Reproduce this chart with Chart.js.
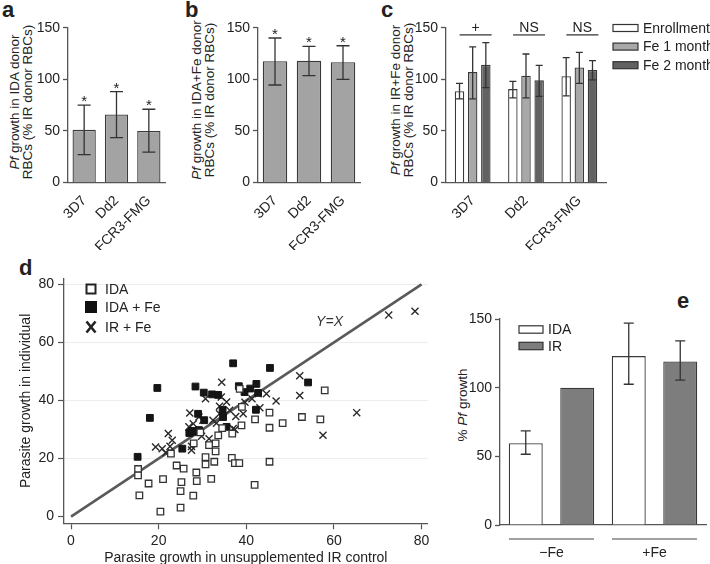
<!DOCTYPE html>
<html>
<head>
<meta charset="utf-8">
<script src="https://cdn.jsdelivr.net/npm/chart.js@4.4.1/dist/chart.umd.min.js"></script>
<style>
  body { margin:0; width:710px; height:564px; position:relative; overflow:hidden; background:#fff;
         font-family:"Liberation Sans", Arial, sans-serif; color:#222; }
  canvas { position:absolute; }
  .tag { position:absolute; font-weight:bold; font-size:22px; line-height:22px; }
  .ytitle { position:absolute; font-size:13.5px; line-height:13px; text-align:center; white-space:nowrap; transform:rotate(-90deg); }
</style>
</head>
<body>
<div class="tag" style="left:2px;top:-1px">a</div>
<div class="tag" style="left:185px;top:-1px">b</div>
<div class="tag" style="left:381px;top:-1px">c</div>
<div class="tag" style="left:19px;top:257px">d</div>
<div class="tag" style="left:677px;top:290px">e</div>

<div class="ytitle" style="left:-89px;top:89px;width:220px;height:26px"><i>Pf</i> growth in IDA donor<br>RBCs (% IR donor RBCs)</div>
<div class="ytitle" style="left:93px;top:87px;width:220px;height:26px"><i>Pf</i> growth in IDA+Fe donor<br>RBCs (% IR donor RBCs)</div>
<div class="ytitle" style="left:292px;top:87px;width:220px;height:26px"><i>Pf</i> growth in IR+Fe donor<br>RBCs (% IR donor RBCs)</div>
<div class="ytitle" style="left:413px;top:398px;width:100px;height:14px">% <i>Pf</i> growth</div>

<canvas id="ca" width="140" height="250" style="left:36px;top:0"></canvas>
<canvas id="cb" width="150" height="250" style="left:226px;top:0"></canvas>
<canvas id="cc" width="296" height="250" style="left:414px;top:0"></canvas>
<canvas id="cd" width="440" height="302" style="left:0;top:262px"></canvas>
<canvas id="ce" width="250" height="284" style="left:460px;top:280px"></canvas>

<script>
// panel a / b : growth in IDA and IDA+Fe donor RBCs
const strains = ["3D7", "Dd2", "FCR3-FMG"];
const idaMean = [51, 66, 50];
const idaLo = [27, 43.5, 29.5];
const idaHi = [75, 88, 71];
const idaFeMean = [117.5, 118, 116.5];
const idaFeLo = [94.5, 103.5, 100];
const idaFeHi = [140, 132, 132.5];

// panel c : IR+Fe donors over time
const cSeries = ["Enrollment", "Fe 1 month", "Fe 2 month"];
const enrMean = [88.5, 90.5, 103];
const enrLo = [81, 82, 84];
const enrHi = [96, 98, 121];
const fe1Mean = [107, 103.5, 111.5];
const fe1Lo = [81, 82, 96];
const fe1Hi = [131.5, 124.5, 126];
const fe2Mean = [114, 99, 109];
const fe2Lo = [92, 83.5, 99.5];
const fe2Hi = [135.5, 113.5, 118];
const cSig = ["+", "NS", "NS"];
const sigLineAt = 143;

// panel d : individual vs IR control growth
const dTicks = [0, 20, 40, 60, 80];
const yxLine = [[0, 0], [80, 80]];
const yxLabelAt = [59, 67];
const idaPts = [[57.9,43.5],[38.5,44],[45.3,35.8],[42,33.5],[48.3,32.2],[52.7,34.3],[56.9,33.5],[45.3,30.6],
  [38.9,31.4],[36.8,28.6],[39,37.8],[36.7,20.2],[37.4,18.4],[38.4,18.4],[45.3,18.9],[41.9,10.9],[33.6,28],
  [33,25.2],[33,22.5],[31.5,24.6],[30.7,20.5],[30.7,18],[32.7,18.9],[32,13],[28.6,15.2],[28.7,12.2],[27.9,7.2],
  [28,25.2],[25.7,16.5],[24.1,17.6],[25.2,11.9],[25,8.8],[25,3.1],[21,12.9],[20.4,1.7],[17.7,11.4],[15.6,7.3],
  [15.3,16.4],[15.3,14.2],[22.8,21.7],[29.5,29],[34.5,30.5]];
const idaFePts = [[37,52.8],[45.4,51.2],[19.7,44.3],[28.4,44.8],[30.3,42.7],[32.2,42.1],[33.6,41.9],[38.3,44.9],
  [39.6,42.9],[40.9,44.1],[42.3,45.7],[42.7,42.6],[54.1,46.2],[18,34],[15.2,20.6],[42.2,36.8],[29,35.4],
  [30.4,33.2],[34.6,36.8],[34.7,34.3],[35.5,30.9],[27.5,29.5],[28.3,29.2],[29.2,29.8],[25.4,23.4],[27,28.8]];
const irFePts = [[72.5,69.4],[78.5,70.7],[52.2,48.5],[52.2,41.7],[65.2,35.8],[57.5,28],[46.8,39.8],[44.6,42.3],
  [43.1,37.5],[42.7,42.3],[41.3,40.6],[39.3,35.4],[39.7,39.4],[37.4,30],[37.6,34.5],[34.4,46.3],[34.3,41.2],
  [35.5,39.5],[33.9,38],[36.2,36.6],[33.9,35.4],[32.4,33.2],[30.7,40.6],[27.1,35.7],[29.2,34.3],[30.1,33.2],
  [27.9,32],[29.8,27.7],[31.5,26.8],[27.5,24.2],[27.5,22.9],[26.9,30.9],[22.2,28.6],[23.1,26.3],[19.3,24],
  [20.8,23.4],[21.6,22],[22.6,24.2],[33.2,32.2],[37,30.3]];

// panel e : summary
const eGroups = ["\u2212Fe", "+Fe"];
const eIDA = [59.5, 123];
const eIDALo = [51.5, 102.5];
const eIDAHi = [68.5, 147];
const eIR = [100, 119];
const eIRLo = [null, 105.5];
const eIRHi = [null, 134];

Chart.defaults.font.family = '"Liberation Sans", Arial, sans-serif';
Chart.defaults.font.size = 14;
Chart.defaults.color = '#222';
const AX = '#555';
const FONT = '14px "Liberation Sans", Arial, sans-serif';

// error bars (+ optional asterisk) on top of bars
const errorBars = {
  id: 'errorBars',
  afterDatasetsDraw(chart, args, opts) {
    const ctx = chart.ctx, y = chart.scales.y;
    chart.data.datasets.forEach((ds, di) => {
      if (!ds.errLo) return;
      chart.getDatasetMeta(di).data.forEach((bar, i) => {
        if (ds.errLo[i] == null) return;
        const yl = y.getPixelForValue(ds.errLo[i]), yh = y.getPixelForValue(ds.errHi[i]);
        const c = opts.cap;
        ctx.save();
        ctx.strokeStyle = '#333'; ctx.lineWidth = 1.3;
        ctx.beginPath();
        ctx.moveTo(bar.x, yl); ctx.lineTo(bar.x, yh);
        ctx.moveTo(bar.x - c, yl); ctx.lineTo(bar.x + c, yl);
        ctx.moveTo(bar.x - c, yh); ctx.lineTo(bar.x + c, yh);
        ctx.stroke();
        if (opts.star) {
          ctx.fillStyle = '#222'; ctx.font = '15px "Liberation Sans", Arial';
          ctx.textAlign = 'center'; ctx.textBaseline = 'alphabetic';
          ctx.fillText('*', bar.x, yh + 1);
        }
        ctx.restore();
      });
    });
  }
};

function yAxis(w) {
  return { min: 0, max: 150, ticks: { stepSize: 50, padding: 3 },
    grid: { drawOnChartArea: false, tickLength: 5, tickColor: AX, tickWidth: 1.3 },
    border: { color: AX, width: 1.3 },
    afterFit: s => { s.width = w; } };
}
function xAxis(h, rot, pad) {
  return { grid: { display: false }, border: { color: AX, width: 1.3 },
    ticks: { minRotation: rot, maxRotation: rot, autoSkip: false, padding: pad },
    afterFit: s => { s.height = h; } };
}

function strainPanel(id, mean, lo, hi, right) {
  new Chart(document.getElementById(id), {
    type: 'bar',
    data: { labels: strains, datasets: [{ data: mean, errLo: lo, errHi: hi,
      backgroundColor: '#a3a3a3', borderColor: '#3a3a3a', borderWidth: 1.3,
      categoryPercentage: 0.8, barPercentage: 0.9 }] },
    options: {
      responsive: false, animation: false, events: [],
      layout: { padding: { top: 27.7, right: right, left: 0, bottom: 0 } },
      plugins: { legend: { display: false }, tooltip: { enabled: false }, errorBars: { cap: 6.5, star: true } },
      scales: { x: xAxis(67.5, 45, 2), y: yAxis(32) }
    },
    plugins: [errorBars]
  });
}
strainPanel('ca', idaMean, idaLo, idaHi, 11);
strainPanel('cb', idaFeMean, idaFeLo, idaFeHi, 16);

// panel c : significance bars + legend at right
const cExtras = {
  id: 'cExtras',
  afterDraw(chart) {
    const { ctx, scales: { x, y } } = chart;
    ctx.save();
    ctx.strokeStyle = '#333'; ctx.lineWidth = 1.2; ctx.fillStyle = '#222';
    ctx.font = FONT; ctx.textAlign = 'center'; ctx.textBaseline = 'alphabetic';
    const ly = y.getPixelForValue(sigLineAt);
    cSig.forEach((s, i) => {
      const cx = x.getPixelForValue(i) + 3;
      ctx.beginPath(); ctx.moveTo(cx - 16, ly); ctx.lineTo(cx + 16, ly); ctx.stroke();
      ctx.fillText(s, cx, ly - 3);
    });
    const lx = chart.chartArea.right + 7;
    chart.data.datasets.forEach((ds, i) => {
      const cy = 28 + i * 18.6;
      ctx.fillStyle = ds.backgroundColor;
      ctx.fillRect(lx, cy - 3.5, 25, 7);
      ctx.strokeStyle = '#333'; ctx.strokeRect(lx, cy - 3.5, 25, 7);
      ctx.fillStyle = '#222'; ctx.textAlign = 'left'; ctx.textBaseline = 'middle';
      ctx.fillText(ds.label, lx + 30, cy + 1);
    });
    ctx.restore();
  }
};
const cColors = ['#ffffff', '#a8a8a8', '#626262'];
new Chart(document.getElementById('cc'), {
  type: 'bar',
  data: { labels: strains, datasets: [
    { label: cSeries[0], data: enrMean, errLo: enrLo, errHi: enrHi },
    { label: cSeries[1], data: fe1Mean, errLo: fe1Lo, errHi: fe1Hi },
    { label: cSeries[2], data: fe2Mean, errLo: fe2Lo, errHi: fe2Hi }
  ].map((d, i) => Object.assign(d, { backgroundColor: cColors[i], borderColor: '#3a3a3a', borderWidth: 1.3,
      categoryPercentage: 0.74, barPercentage: 0.72 })) },
  options: {
    responsive: false, animation: false, events: [],
    layout: { padding: { top: 27.7, right: 104, left: 0, bottom: 0 } },
    plugins: { legend: { display: false }, tooltip: { enabled: false }, errorBars: { cap: 3.5, star: false } },
    scales: { x: xAxis(67.5, 45, 2), y: yAxis(32) }
  },
  plugins: [errorBars, cExtras]
});

// panel d : scatter with identity line
const toXY = ([x, y]) => ({ x, y });
const dExtras = {
  id: 'dExtras',
  afterDraw(chart) {
    const { ctx, scales: { x, y } } = chart, a = chart.chartArea;
    ctx.save();
    ctx.font = 'italic 14px "Liberation Sans", Arial'; ctx.fillStyle = '#333';
    ctx.textAlign = 'center'; ctx.textBaseline = 'middle';
    ctx.fillText('Y=X', x.getPixelForValue(yxLabelAt[0]), y.getPixelForValue(yxLabelAt[1]));
    const mx = a.left + 27, rows = [10.5, 28.5, 48.5];
    ctx.strokeStyle = '#222'; ctx.fillStyle = '#fff'; ctx.lineWidth = 2;
    ctx.fillRect(mx - 5.5, a.top + rows[0] - 5.5, 11, 11);
    ctx.strokeRect(mx - 4.5, a.top + rows[0] - 4.5, 9, 9);
    ctx.fillStyle = '#111';
    ctx.fillRect(mx - 6, a.top + rows[1] - 6, 12, 12);
    ctx.lineWidth = 2.6;
    ctx.beginPath();
    ctx.moveTo(mx - 4.5, a.top + rows[2] - 5.5); ctx.lineTo(mx + 4.5, a.top + rows[2] + 5.5);
    ctx.moveTo(mx + 4.5, a.top + rows[2] - 5.5); ctx.lineTo(mx - 4.5, a.top + rows[2] + 5.5);
    ctx.stroke();
    ctx.font = FONT; ctx.fillStyle = '#222'; ctx.textAlign = 'left';
    chart.data.datasets.filter(d => d.label).forEach((d, i) => {
      ctx.fillText(d.label, mx + 14, a.top + rows[i] + 1);
    });
    ctx.restore();
  }
};
new Chart(document.getElementById('cd'), {
  type: 'scatter',
  data: { datasets: [
    { type: 'line', data: yxLine.map(toXY), borderColor: '#5a5a5a', borderWidth: 2.6, pointRadius: 0, order: 10 },
    { label: 'IDA', data: idaPts.map(toXY), pointStyle: 'rect', pointRadius: 4.6,
      pointBackgroundColor: '#fff', pointBorderColor: '#333', pointBorderWidth: 1.3 },
    { label: 'IDA + Fe', data: idaFePts.map(toXY), pointStyle: 'rect', pointRadius: 4.8,
      pointBackgroundColor: '#151515', pointBorderColor: '#151515', pointBorderWidth: 1 },
    { label: 'IR + Fe', data: irFePts.map(toXY), pointStyle: 'crossRot', pointRadius: 5,
      pointBorderColor: '#2a2a2a', pointBorderWidth: 1.4 }
  ] },
  options: {
    responsive: false, animation: false, events: [],
    layout: { padding: { top: 16.5, right: 12.3, left: 0, bottom: 0 } },
    plugins: { legend: { display: false }, tooltip: { enabled: false } },
    scales: {
      x: { type: 'linear', min: -1.6, max: 81.4,
        afterBuildTicks: s => { s.ticks = dTicks.map(v => ({ value: v })); },
        ticks: { padding: 3 },
        grid: { drawOnChartArea: false, tickLength: 6, tickColor: AX, tickWidth: 1.2 },
        border: { color: AX, width: 1.3 },
        title: { display: true, text: 'Parasite growth in unsupplemented IR control', padding: { top: 0, bottom: -3 } },
        afterFit: s => { s.height = 40.7; } },
      y: { min: -2.3, max: 82,
        afterBuildTicks: s => { s.ticks = dTicks.map(v => ({ value: v })); },
        ticks: { padding: 4 },
        grid: { color: c => c.tick && c.tick.value === 0 ? 'rgba(0,0,0,0)' : '#ececec', lineWidth: 1,
          tickLength: 6, tickColor: AX, tickWidth: 1.2 },
        border: { color: AX, width: 1.3 },
        title: { display: true, text: 'Parasite growth in individual', padding: { top: 18, bottom: 0 } },
        afterFit: s => { s.width = 64; } }
    }
  },
  plugins: [dExtras]
});

// panel e : group lines under axis + legend
const eExtras = {
  id: 'eExtras',
  afterDraw(chart) {
    const { ctx, scales: { x } } = chart, a = chart.chartArea;
    ctx.save();
    ctx.strokeStyle = '#444'; ctx.lineWidth = 1.2;
    eGroups.forEach((g, i) => {
      const cx = x.getPixelForValue(i);
      ctx.beginPath(); ctx.moveTo(cx - 42.5, a.bottom + 14); ctx.lineTo(cx + 42.5, a.bottom + 14); ctx.stroke();
    });
    ctx.font = FONT; ctx.textBaseline = 'middle'; ctx.textAlign = 'left';
    chart.data.datasets.forEach((ds, i) => {
      const cy = a.top + 10.5 + i * 16.5;
      ctx.fillStyle = ds.backgroundColor; ctx.fillRect(a.left + 19, cy - 3.7, 24, 7.4);
      ctx.strokeStyle = '#333'; ctx.strokeRect(a.left + 19, cy - 3.7, 24, 7.4);
      ctx.fillStyle = '#222'; ctx.fillText(ds.label, a.left + 48, cy + 1);
    });
    ctx.restore();
  }
};
new Chart(document.getElementById('ce'), {
  type: 'bar',
  data: { labels: eGroups, datasets: [
    { label: 'IDA', data: eIDA, errLo: eIDALo, errHi: eIDAHi, backgroundColor: '#ffffff' },
    { label: 'IR', data: eIR, errLo: eIRLo, errHi: eIRHi, backgroundColor: '#7d7d7d' }
  ].map(d => Object.assign(d, { borderColor: '#3a3a3a', borderWidth: 1.3, categoryPercentage: 1, barPercentage: 0.66 })) },
  options: {
    responsive: false, animation: false, events: [],
    layout: { padding: { top: 39, right: 4, left: 0, bottom: 0 } },
    plugins: { legend: { display: false }, tooltip: { enabled: false }, errorBars: { cap: 5, star: false } },
    scales: { x: xAxis(39, 0, 12), y: yAxis(40) }
  },
  plugins: [errorBars, eExtras]
});
</script>
</body>
</html>
